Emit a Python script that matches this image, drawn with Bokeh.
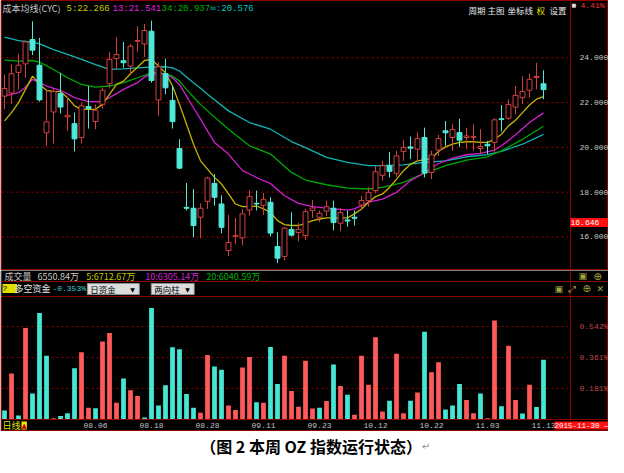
from bokeh.plotting import figure
from bokeh.layouts import column
from bokeh.models import Range1d, Label, Span, BoxAnnotation, ColumnDataSource
from bokeh.core.properties import value
from bokeh.embed import file_html
from bokeh.resources import INLINE

# ---------------- data ----------------
opens = [22.29, 22.43, 23.35, 23.73, 24.82, 23.67, 20.65, 21.58, 22.40, 21.36,
         21.06, 20.44, 21.82, 21.15, 21.92, 22.84, 23.97, 23.87, 23.63, 24.74,
         24.62, 25.19, 22.12, 23.29, 22.10, 19.95, 17.32, 17.28, 16.88, 17.59,
         18.39, 17.47, 15.39, 16.03, 15.96, 17.20, 17.50, 17.41, 17.55, 15.57,
         15.13, 16.34, 16.20, 16.06, 17.18, 16.88, 17.15, 17.28, 16.61, 16.76,
         16.88, 17.43, 17.62, 18.07, 18.75, 19.18, 18.84, 19.82, 20.02, 19.92,
         20.44, 18.88, 19.88, 20.74, 20.44, 20.66, 20.44, 20.45, 19.95, 20.14,
         20.22, 21.28, 21.30, 21.80, 22.22, 22.55, 23.12, 22.84]
highs = [23.26, 23.70, 24.18, 24.77, 25.63, 24.89, 22.55, 22.63, 23.33, 22.25,
         21.55, 21.99, 22.74, 21.92, 22.66, 24.27, 24.92, 24.71, 24.62, 25.41,
         25.51, 25.66, 23.81, 23.97, 22.74, 20.36, 18.41, 18.14, 17.49, 18.69,
         18.81, 17.86, 16.99, 16.85, 17.25, 18.09, 18.07, 17.96, 17.77, 16.21,
         16.43, 17.10, 16.63, 17.25, 17.65, 17.18, 17.62, 17.62, 17.29, 17.18,
         17.18, 17.84, 18.21, 19.18, 19.40, 19.79, 19.85, 20.32, 20.48, 20.66,
         20.88, 19.85, 20.56, 21.18, 21.03, 21.28, 20.88, 21.03, 20.81, 20.29,
         21.30, 21.89, 22.15, 22.74, 23.18, 23.29, 23.78, 23.44]
lows = [21.70, 21.95, 22.59, 23.11, 24.12, 22.04, 20.07, 20.17, 21.51, 20.74,
        19.82, 20.17, 20.84, 20.81, 21.74, 22.63, 23.48, 23.55, 23.26, 24.27,
        24.03, 22.89, 21.40, 22.37, 20.84, 19.03, 17.18, 15.99, 15.94, 17.25,
        17.40, 16.17, 15.15, 15.69, 15.62, 16.95, 17.18, 16.98, 16.02, 14.83,
        14.95, 16.02, 15.80, 15.87, 16.85, 16.66, 16.95, 16.29, 16.26, 16.46,
        16.51, 17.18, 17.35, 17.95, 18.51, 18.66, 18.69, 19.40, 19.47, 19.40,
        18.66, 18.58, 19.62, 20.07, 19.85, 20.02, 19.92, 19.85, 19.70, 19.70,
        19.81, 20.71, 21.21, 21.48, 21.92, 22.22, 22.59, 22.15]
closes = [22.63, 23.29, 23.67, 24.71, 24.34, 22.12, 21.14, 22.49, 21.80, 21.43,
          20.38, 21.85, 21.73, 21.66, 22.55, 23.93, 24.15, 23.78, 24.52, 24.77,
          25.22, 22.99, 23.60, 22.66, 21.15, 19.07, 17.28, 16.51, 17.28, 18.63,
          17.77, 16.43, 15.75, 16.06, 17.03, 17.81, 17.47, 17.68, 16.17, 15.05,
          16.39, 16.08, 16.34, 17.13, 17.29, 17.06, 17.35, 16.64, 17.09, 16.71,
          16.83, 17.62, 17.99, 18.91, 19.18, 18.93, 19.62, 19.99, 19.96, 20.39,
          18.85, 19.67, 20.39, 20.65, 20.80, 20.32, 20.51, 20.48, 20.04, 20.07,
          21.23, 21.24, 21.91, 22.32, 22.49, 23.04, 23.17, 22.58]

ma5_val = [21.18, 21.55, 22.00, 22.59, 23.18, 22.81, 22.55, 22.49, 22.49, 22.22,
           21.85, 21.70, 21.70, 21.70, 21.92, 22.37, 22.81, 22.96, 23.29, 23.58,
           23.88, 23.93, 23.63, 23.33, 22.74, 21.92, 21.03, 20.14, 19.40, 19.03,
           18.66, 18.36, 17.92, 17.47, 17.35, 17.35, 17.38, 17.25, 17.10, 16.73,
           16.55, 16.51, 16.51, 16.61, 16.73, 16.80, 16.85, 16.85, 16.85, 16.85,
           17.03, 17.25, 17.55, 17.80, 17.92, 18.21, 18.58, 18.96, 19.25, 19.40,
           19.45, 19.50, 19.82, 20.02, 20.14, 20.22, 20.25, 20.25, 20.22, 20.22,
           20.36, 20.59, 20.96, 21.21, 21.55, 21.89, 22.15, 22.27]
ma5_idx = list(range(len(ma5_val)))
ma13_idx = [0, 2, 3, 4, 5, 6, 8, 10, 12, 14, 15, 17, 19, 20, 21, 22, 23, 24, 25, 26,
            27, 28, 29, 30, 32, 34, 35, 37, 38, 40, 42, 44, 46, 49, 50, 52, 54, 56, 58, 60,
            62, 64, 66, 68, 70, 71, 73, 75, 77]
ma13_val = [22.29, 22.44, 22.69, 23.04, 22.89, 22.74, 22.55, 22.22, 22.04, 22.04,
            22.22, 22.59, 22.89, 23.14, 23.29, 23.29, 23.26, 23.11, 22.81, 22.29,
            21.77, 21.26, 20.74, 20.22, 19.70, 18.96, 18.81, 18.51, 18.39, 17.84,
            17.50, 17.35, 17.29, 17.20, 17.25, 17.55, 17.69, 17.99, 18.51, 18.88,
            19.28, 19.52, 19.67, 19.73, 19.88, 20.07, 20.56, 21.11, 21.54]
ma34_idx = [0, 2, 4, 5, 7, 9, 11, 13, 15, 17, 19, 21, 22, 23, 24, 25, 26, 27, 28, 29,
            32, 35, 38, 41, 43, 46, 49, 52, 54, 57, 60, 63, 66, 69, 71, 74, 77]
ma34_val = [23.90, 23.85, 23.88, 23.81, 23.48, 23.11, 22.81, 22.69, 22.74, 22.89,
            23.11, 23.33, 23.33, 23.29, 23.18, 22.96, 22.59, 22.25, 21.92, 21.63,
            20.81, 20.07, 19.70, 18.88, 18.54, 18.33, 18.18, 18.14, 18.21, 18.44,
            18.84, 19.18, 19.43, 19.58, 19.85, 20.36, 20.94]
cyc_idx = [0, 2, 4, 5, 7, 9, 11, 13, 15, 17, 19, 21, 23, 24, 25, 26, 27, 28, 29, 32,
           35, 38, 41, 43, 46, 49, 52, 54, 57, 60, 63, 66, 69, 71, 74, 77]
cyc_val = [24.92, 24.77, 24.70, 24.62, 24.37, 24.15, 23.93, 23.70, 23.48, 23.51,
           23.55, 23.58, 23.60, 23.55, 23.41, 23.14, 22.89, 22.64, 22.37, 21.63,
           21.11, 20.81, 20.26, 19.99, 19.55, 19.33, 19.18, 19.18, 19.22, 19.33,
           19.40, 19.58, 19.68, 19.82, 20.14, 20.58]

flow_vals = [0.052, 0.268, 0.023, 0.533, 0.151, 0.621, 0.371, 0.008, 0.021, 0.037,
             0.299, 0.392, 0.069, 0.066, 0.455, 0.504, 0.097, 0.239, 0.170, 0.137,
             0.012, 0.650, 0.081, 0.199, 0.421, 0.409, 0.149, 0.069, 0.039, 0.376,
             0.309, 0.290, 0.081, 0.056, 0.303, 0.365, 0.100, 0.097, 0.423, 0.207,
             0.371, 0.166, 0.075, 0.342, 0.064, 0.069, 0.108, 0.320, 0.195, 0.145,
             0.027, 0.371, 0.203, 0.479, 0.046, 0.110, 0.384, 0.037, 0.110, 0.158,
             0.511, 0.276, 0.334, 0.058, 0.081, 0.207, 0.114, 0.037, 0.151, 0.008,
             0.577, 0.077, 0.430, 0.114, 0.035, 0.203, 0.073, 0.349]
flow_dir = list("crcrcccrcc" "crrcrrrcrr" "ccccccccrr" "ccrrrrcrcc"
                "rrrrrcrcrc" "rrrrrcrrcr" "crrcccrrcr" "rcrrcrcc")

date_ticks = [13, 21, 29, 37, 45, 53, 61, 69, 77]
date_labels = ["08.06", "08.18", "08.28", "09.11", "09.23", "10.12", "10.22", "11.03", "11.13"]
price_ticks = [16, 18, 20, 22, 24]
price_labels = ["16.000", "18.000", "20.000", "22.000", "24.000"]
flow_ticks = [0.181, 0.361, 0.542]
flow_labels = ["0.181%", "0.361%", "0.542%"]

# ---------------- styles / geometry ----------------
W = 608
BG = "#000000"
DR = "#8c0000"
GRID = "#a00000"
RED_C = "#d24040"
CYAN_C = "#50e8d8"
RED_V = "#ff5a5a"
CYAN_V = "#46e6d4"
CJK = "Noto Sans CJK SC"
MONO = "Liberation Mono"

XPX = 7.0                 # pixels per trading day
X0 = -0.43
AX = X0 + 569 / XPX       # position of the price-axis line
xr = Range1d(X0, X0 + (W - 1) / XPX)

# ---------------- main price panel ----------------
MH = 270
main = figure(width=W, height=MH, x_range=xr, y_range=Range1d(14.50, 26.56),
              output_backend="svg", toolbar_location=None, x_axis_location=None,
              y_axis_location=None, background_fill_color=BG, border_fill_color=BG,
              min_border_left=1, min_border_right=0, min_border_top=0, min_border_bottom=0)
main.outline_line_color = DR
main.grid.visible = False
main.segment(x0=[X0] * len(price_ticks), y0=price_ticks, x1=[AX] * len(price_ticks),
             y1=price_ticks, line_color=GRID, line_dash="2 3", line_width=1)
main.add_layout(Span(location=AX, dimension="height", line_color=DR, line_width=1))
main.text(x=[AX + 9 / XPX] * len(price_ticks), y=price_ticks, text=price_labels,
          text_color="#c8c8c8", text_font=value(MONO), text_font_size=value("8px"),
          text_baseline="middle")

idx = list(range(len(opens)))
up = [c >= o for o, c in zip(opens, closes)]
src = ColumnDataSource(dict(
    x=idx, h=highs, l=lows,
    top=[max(o, c) for o, c in zip(opens, closes)],
    bot=[min(o, c) for o, c in zip(opens, closes)],
    col=[RED_C if u else CYAN_C for u in up],
    fill=[BG if u else CYAN_C for u in up],
))

main.line(cyc_idx, cyc_val, line_color="#10b4b4", line_width=1.3)
main.line(ma34_idx, ma34_val, line_color="#00a800", line_width=1.3)
main.line(ma13_idx, ma13_val, line_color="#d020d0", line_width=1.3)
main.line(ma5_idx, ma5_val, line_color="#c8b400", line_width=1.3)
main.segment(x0="x", y0="h", x1="x", y1="l", line_color="col", line_width=1, source=src)
main.vbar(x="x", width=0.7, top="top", bottom="bot", fill_color="fill", line_color="col",
          line_width=1, source=src)

FH = MH  # frame height of the main panel


def slabel(fig, x, y, text, color, font=CJK, size="9px", **kw):
    lab = Label(x=x, y=y, x_units="screen", y_units="screen", text=text, text_color=color,
                text_font=font, text_font_size=size, text_baseline="middle", **kw)
    fig.add_layout(lab)
    return lab


slabel(main, 1, FH - 8, "成本均线(CYC)", "#c8c8c8")
slabel(main, 65, FH - 8, "5:22.266", "#c8c800", font=MONO)
slabel(main, 111, FH - 8, "13:21.541", "#e020e0", font=MONO)
slabel(main, 160, FH - 8, "34:20.937", "#00b400", font=MONO)
slabel(main, 209, FH - 8, "∞:20.576", "#00c8c8", font=MONO)
slabel(main, 467, FH - 9, "周期", "#e8e8e8", size="8.5px")
slabel(main, 486, FH - 9, "主图", "#e8e8e8", size="8.5px")
slabel(main, 506, FH - 9, "坐标线", "#e8e8e8", size="8.5px")
slabel(main, 535, FH - 9, "权", "#e0e000", size="8.5px")
slabel(main, 548, FH - 9, "设置", "#e8e8e8", size="8.5px")
slabel(main, 570, FH - 4, "■", "#e0e0e0", font="DejaVu Sans", size="5px")
slabel(main, 579, FH - 5, "4.41%", "#ff3030", font=MONO, size="8px")
main.add_layout(Label(x=AX, y=16.646, x_units="data", y_units="data", text=" 16.646 ",
                      text_color="#ffffff", text_font=MONO, text_font_size="8px",
                      text_baseline="middle", background_fill_color="#ff1010"))

# ---------------- header strip (volume + fund titles) ----------------
hdr = figure(width=W, height=26, x_range=Range1d(0, W), y_range=Range1d(26, 0),
             output_backend="svg", toolbar_location=None, x_axis_location=None,
             y_axis_location=None, background_fill_color=BG, border_fill_color=BG,
             min_border=0)
hdr.grid.visible = False
hdr.outline_line_color = None
hdr.add_layout(Span(location=11, dimension="width", line_color=DR, line_width=1))
hdr.add_layout(Span(location=570, dimension="height", line_color=DR, line_width=1))


def dlabel(fig, x, y, text, color, font=CJK, size="9px", **kw):
    lab = Label(x=x, y=y, text=text, text_color=color, text_font=font,
                text_font_size=size, text_baseline="middle", **kw)
    fig.add_layout(lab)
    return lab


dlabel(hdr, 3, 5.5, "成交量", "#c8c8c8")
dlabel(hdr, 36, 5.5, "6550.84万", "#c8c8c8")
dlabel(hdr, 85, 5.5, "5:6712.67万", "#c8c800")
dlabel(hdr, 144, 5.5, "10:6305.14万", "#d020d0")
dlabel(hdr, 205, 5.5, "20:6040.59万", "#00b400")
dlabel(hdr, 578, 5.5, "▣", "#a8a840", font="DejaVu Sans", size="9px")
dlabel(hdr, 593, 5.5, "⊕", "#a8a840", font="DejaVu Sans", size="10px")

dlabel(hdr, 1, 18, " ? ", "#000000", font=MONO, size="8px", background_fill_color="#e0e000")
dlabel(hdr, 13, 18, "多空资金", "#e8e8e8")
dlabel(hdr, 51, 18, "-0.353%", "#40c8c8", font=MONO, size="8px")
hdr.add_layout(BoxAnnotation(left=86, right=138, top=13, bottom=24, fill_color="#dcdcdc",
                             fill_alpha=1, line_color="#909090", line_alpha=1))
dlabel(hdr, 89, 18.5, "日资金", "#000000", size="8.5px")
dlabel(hdr, 129, 18.5, "▼", "#000000", font="DejaVu Sans", size="6px")
hdr.add_layout(BoxAnnotation(left=150, right=193, top=13, bottom=24, fill_color="#dcdcdc",
                             fill_alpha=1, line_color="#909090", line_alpha=1))
dlabel(hdr, 153, 18.5, "两向柱", "#000000", size="8.5px")
dlabel(hdr, 184, 18.5, "▼", "#000000", font="DejaVu Sans", size="6px")
dlabel(hdr, 554, 18, "▣", "#a8a840", font="DejaVu Sans", size="9px")
dlabel(hdr, 568, 18, "⤢", "#a8a840", font="DejaVu Sans", size="9px")
dlabel(hdr, 582, 18, "⊕", "#a8a840", font="DejaVu Sans", size="10px")
dlabel(hdr, 596, 18, "✕", "#a8a840", font="DejaVu Sans", size="9px")

# ---------------- fund-flow bar panel (with date strip) ----------------
LH = 135
STRIP = 12
YPX = (LH - STRIP) / 0.717
low = figure(width=W, height=LH, x_range=xr, y_range=Range1d(-STRIP / YPX, 0.717),
             output_backend="svg", toolbar_location=None, x_axis_location=None,
             y_axis_location=None, background_fill_color=BG, border_fill_color=BG,
             min_border_left=1, min_border_right=0, min_border_top=0, min_border_bottom=0)
low.outline_line_color = DR
low.grid.visible = False
low.segment(x0=[X0] * len(flow_ticks), y0=flow_ticks, x1=[AX] * len(flow_ticks),
            y1=flow_ticks, line_color=GRID, line_dash="2 3", line_width=1)
low.add_layout(Span(location=AX, dimension="height", line_color=DR, line_width=1))
low.add_layout(Span(location=0, dimension="width", line_color=DR, line_width=1))
low.text(x=[AX + 9 / XPX] * len(flow_ticks), y=flow_ticks, text=flow_labels,
         text_color="#c04848", text_font=value(MONO), text_font_size=value("8px"),
         text_baseline="middle")
low.text(x=date_ticks, y=[-6 / YPX] * len(date_ticks), text=date_labels,
         text_color="#c0c0c0", text_font=value(MONO), text_font_size=value("8px"),
         text_baseline="middle", text_align="center")

fsrc = ColumnDataSource(dict(x=idx, v=flow_vals,
                             col=[RED_V if d == "r" else CYAN_V for d in flow_dir]))
low.vbar(x="x", width=0.68, top="v", bottom=0, fill_color="col", line_color=None, source=fsrc)

slabel(low, 1, 6, "日线", "#e0e000", size="9px")
slabel(low, 20, 6, "▲", "#d00000", font="DejaVu Sans", size="7px",
       background_fill_color="#f0f000")
slabel(low, 553, 6, "2015-11-30 —", "#ffffff", font=MONO, size="7.5px",
       background_fill_color="#ff1010")

# ---------------- caption ----------------
CAPH = 26
cap = figure(width=W, height=CAPH, x_range=Range1d(0, W), y_range=Range1d(CAPH, 0),
             output_backend="svg", toolbar_location=None, x_axis_location=None,
             y_axis_location=None, background_fill_color="#ffffff",
             border_fill_color="#ffffff", min_border=0)
cap.grid.visible = False
cap.outline_line_color = None
dlabel(cap, 199, 14, "（图 2 本周 OZ 指数运行状态）", "#000000", size="16px",
       text_font_style="bold")
dlabel(cap, 421, 15, "↵", "#909090", font="DejaVu Sans", size="10px")

layout = column(main, hdr, low, cap, spacing=0)
open("out.html", "w").write(file_html(layout, INLINE))
